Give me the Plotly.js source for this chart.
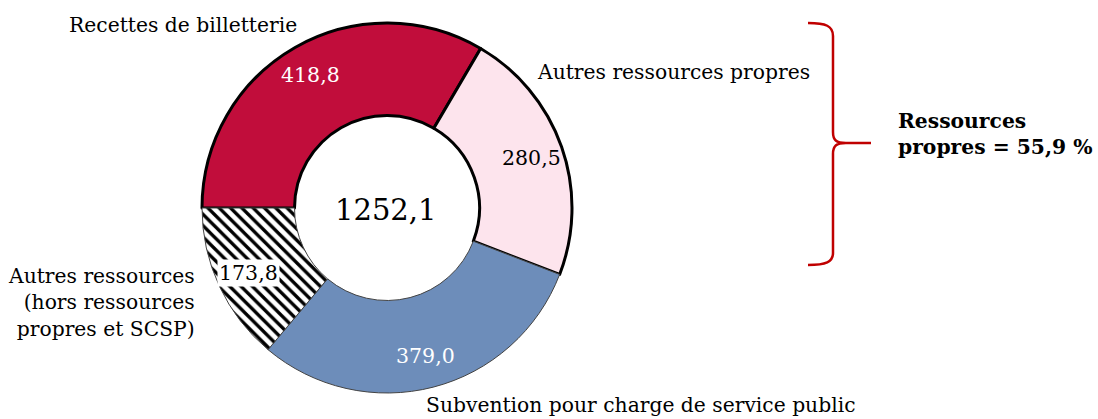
<!DOCTYPE html>
<html>
<head>
<meta charset="utf-8">
<script src="https://cdn.plot.ly/plotly-3.0.1.min.js"></script>
<style>
  html, body { margin: 0; padding: 0; background: #ffffff; }
  #chart { width: 1098px; height: 419px; }
</style>
</head>
<body>
<div id="chart"></div>
<script>
// ---- Data ----
const categories = [
  "Recettes de billetterie",
  "Autres ressources propres",
  "Subvention pour charge de service public",
  "Autres ressources<br>(hors ressources<br>propres et SCSP)"
];
const values = [418.8, 280.5, 379.0, 173.8];
const sliceColors = ["#c10d3b", "#fde4ed", "#6d8dba", "#ffffff"];
const summaryText = ["Ressources", "propres = 55,9 %"];

// ---- Geometry (pixels) ----
const W = 1098, H = 419;
const CX = 387, CY = 208, R = 185;
const px2x = x => x / W;
const px2y = y => 1 - y / H;

const fmt = v => v.toFixed(1).replace('.', ',');
const total = values.reduce((a, b) => a + b, 0);

const trace = {
  type: 'pie',
  labels: categories,
  values: values,
  sort: false,
  direction: 'clockwise',
  rotation: 270,
  hole: 0.5,
  textinfo: 'none',
  hoverinfo: 'skip',
  showlegend: false,
  domain: {
    x: [px2x(CX - R), px2x(CX + R)],
    y: [px2y(CY + R), px2y(CY - R)]
  },
  marker: {
    colors: sliceColors,
    line: { color: ["#000000", "#000000", "#444444", "#444444"], width: [3, 3, 1, 1] },
    pattern: {
      shape: ["", "", "", "\\"],
      fgcolor: "#000000",
      bgcolor: "#ffffff",
      size: 8,
      solidity: 0.42,
      fillmode: "replace"
    }
  }
};

const annotations = [];
const serif = "DejaVu Serif";

// value labels placed at each slice's mid-angle (computed from data)
const valueColors = ["#ffffff", "#000000", "#ffffff", "#000000"];
let start = 270;
const LR = 153;
values.forEach((v, i) => {
  const span = v / total * 360;
  const mid = (start + span / 2) * Math.PI / 180;
  start += span;
  const x = CX + LR * Math.sin(mid);
  const y = CY - LR * Math.cos(mid);
  annotations.push({
    xref: 'paper', yref: 'paper',
    x: px2x(x), y: px2y(y),
    xanchor: 'center', yanchor: 'middle',
    text: fmt(v), showarrow: false,
    font: { family: serif, size: 20.5, color: valueColors[i] },
    bgcolor: i === 3 ? "#ffffff" : "rgba(0,0,0,0)",
    borderpad: 1
  });
});

// total in the hole
annotations.push({
  xref: 'paper', yref: 'paper',
  x: px2x(CX - 2), y: px2y(CY + 2),
  xanchor: 'center', yanchor: 'middle',
  text: fmt(total), showarrow: false,
  font: { family: serif, size: 29, color: "#000000" }
});

// category names
const namePos = [
  { x: 183, y: 25, xa: 'center', align: 'center' },
  { x: 535, y: 72, xa: 'left', align: 'left' },
  { x: 424, y: 405, xa: 'left', align: 'left' },
  { x: 197, y: 302, xa: 'right', align: 'right' }
];
categories.forEach((c, i) => {
  const p = namePos[i];
  annotations.push({
    xref: 'paper', yref: 'paper',
    x: px2x(p.x), y: px2y(p.y),
    xanchor: p.xa, yanchor: 'middle', align: p.align,
    text: c, showarrow: false,
    font: { family: serif, size: 20.3, color: "#000000" }
  });
});

// summary text
annotations.push({
  xref: 'paper', yref: 'paper',
  x: px2x(896), y: px2y(134),
  xanchor: 'left', yanchor: 'middle', align: 'left',
  text: "<b>" + summaryText.join("<br>") + "</b>", showarrow: false,
  font: { family: serif, size: 20.3, color: "#000000" }
});

// curly brace
const P = (x, y) => px2x(x).toFixed(5) + "," + px2y(y).toFixed(5);
const bracePath =
  "M" + P(808, 23) +
  " C" + P(826, 23) + " " + P(833, 26) + " " + P(833, 36) +
  " L" + P(833, 132) +
  " C" + P(833, 140) + " " + P(836, 143) + " " + P(846, 143) +
  " L" + P(871, 143) +
  " M" + P(846, 143) +
  " C" + P(836, 143) + " " + P(833, 146) + " " + P(833, 154) +
  " L" + P(833, 253) +
  " C" + P(833, 262) + " " + P(826, 265) + " " + P(808, 265);

const layout = {
  width: W, height: H,
  margin: { l: 0, r: 0, t: 0, b: 0 },
  paper_bgcolor: "#ffffff",
  plot_bgcolor: "#ffffff",
  showlegend: false,
  annotations: annotations,
  shapes: [{
    type: 'path', xref: 'paper', yref: 'paper',
    path: bracePath,
    line: { color: "#c00000", width: 2.5 }
  }]
};

Plotly.newPlot('chart', [trace], layout, { displayModeBar: false, staticPlot: true });
</script>
</body>
</html>
